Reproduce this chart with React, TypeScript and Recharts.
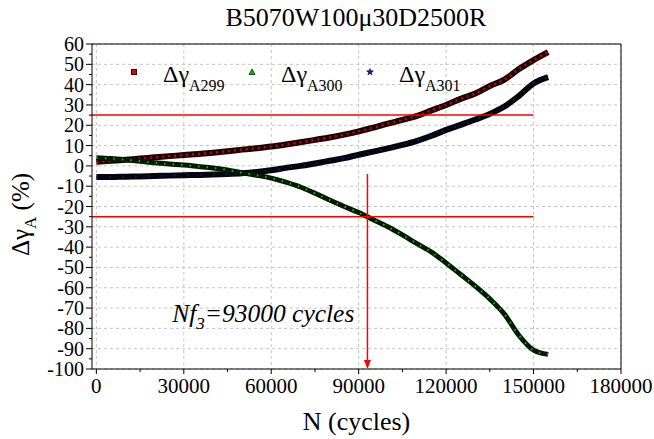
import {
  ComposedChart,
  Line,
  XAxis,
  YAxis,
  CartesianGrid,
  ReferenceLine,
  ReferenceDot,
  Legend,
  Label,
} from "recharts";

const FONT = "'Liberation Serif', 'Times New Roman', serif";
const serif = (size: number, italic = false) => ({
  fontFamily: FONT,
  fontSize: size,
  fontStyle: italic ? "italic" : "normal",
});

/* ===== data ===== */
const cycles = [
  0, 5000, 10000, 15000, 20000, 25000, 30000, 35000, 40000, 45000, 50000,
  55000, 60000, 65000, 70000, 75000, 80000, 85000, 90000, 95000, 100000,
  105000, 110000, 115000, 120000, 125000, 130000, 135000, 140000, 145000,
  150000, 155000,
];
const dgA299 = [
  2, 2.5, 3, 3.6, 4.2, 4.8, 5.3, 5.9, 6.5, 7.2, 8, 8.7, 9.5, 10.5, 11.6, 12.8,
  14, 15.4, 17, 18.8, 20.8, 22.6, 24.6, 27.3, 30, 33, 35.6, 39.3, 42.5, 47.7,
  52.1, 56,
];
const dgA300 = [
  4, 3.6, 3, 2.3, 1.5, 0.9, 0.4, -0.3, -1, -2, -3.4, -4.6, -6, -8, -10.4,
  -13.5, -16.8, -20, -23, -26.5, -30, -34, -38.3, -42.5, -47.8, -53.5, -59.2,
  -65.5, -73, -83.5, -90.7, -92.8,
];
const dgA301 = [
  -5.5, -5.5, -5.3, -5.2, -5, -4.8, -4.6, -4.5, -4.3, -4, -3.6, -3, -2.2, -1,
  0, 1.2, 2.5, 3.8, 5.5, 7, 8.6, 10.3, 12.3, 14.8, 17.7, 20.2, 22.8, 25.6,
  29.2, 34.5, 40.6, 43.7,
];

const xTicks = [
  0, 15000, 30000, 45000, 60000, 75000, 90000, 105000, 120000, 135000, 150000,
  165000, 180000,
];
const xMajor = [0, 30000, 60000, 90000, 120000, 150000, 180000];
const yTicks = [
  -100, -95, -90, -85, -80, -75, -70, -65, -60, -55, -50, -45, -40, -35, -30,
  -25, -20, -15, -10, -5, 0, 5, 10, 15, 20, 25, 30, 35, 40, 45, 50, 55, 60,
];
const yMajor = [-100, -90, -80, -70, -60, -50, -40, -30, -20, -10, 0, 10, 20, 30, 40, 50, 60];

const limit = 25;
const nf3 = 93000;

const legendItems = [
  { sub: "A299", color: "#e00000", shape: "square" },
  { sub: "A300", color: "#00c000", shape: "triangle" },
  { sub: "A301", color: "#1a1aa0", shape: "star" },
];

const data = cycles.map((n, i) => ({
  n,
  a299: dgA299[i],
  a300: dgA300[i],
  a301: dgA301[i],
}));

const TICK_SIZE = 6;
const TICK_MARGIN = 2;

/* ===== ticks ===== */
const XTick = ({ x, y, payload }: any) => {
  const major = xMajor.includes(payload.value);
  const ay = y - TICK_SIZE - TICK_MARGIN;
  return (
    <g>
      <line x1={x} x2={x} y1={ay} y2={ay + (major ? 5 : 3)} stroke="#000" />
      {major && (
        <text x={x} y={ay + 24} textAnchor="middle" style={serif(21)} fill="#000">
          {payload.value}
        </text>
      )}
    </g>
  );
};

const YTick = ({ x, y, payload }: any) => {
  const major = yMajor.includes(payload.value);
  const ax = x + TICK_SIZE + TICK_MARGIN;
  return (
    <g>
      <line x1={ax} x2={ax - (major ? 6 : 3)} y1={y} y2={y} stroke="#000" />
      {major && (
        <text x={ax - 8} y={y + 7} textAnchor="end" style={serif(20)} fill="#000">
          {payload.value}
        </text>
      )}
    </g>
  );
};

const YTitle = ({ viewBox }: any) => {
  const cx = viewBox.x + 29;
  const cy = viewBox.y + viewBox.height / 2 + 8;
  return (
    <text
      x={cx}
      y={cy}
      transform={`rotate(-90 ${cx} ${cy})`}
      textAnchor="middle"
      style={serif(25)}
      fill="#000"
    >
      Δγ<tspan style={serif(17)} dy={7}>A</tspan>
      <tspan dy={-7}> (%)</tspan>
    </text>
  );
};

const XTitle = ({ viewBox }: any) => (
  <text
    x={viewBox.x + viewBox.width / 2}
    y={viewBox.y + 61}
    textAnchor="middle"
    style={serif(26)}
    fill="#000"
  >
    N (cycles)
  </text>
);

const Marker = ({ shape, color, x, y }: any) => {
  if (shape === "square")
    return <rect x={x - 2.5} y={y - 2.5} width={5} height={5} fill={color} stroke="#400" strokeWidth={1} />;
  if (shape === "triangle")
    return <polygon points={`${x},${y - 3} ${x + 3},${y + 2.5} ${x - 3},${y + 2.5}`} fill={color} stroke="#030" strokeWidth={0.8} />;
  const pts: string[] = [];
  for (let k = 0; k < 10; k++) {
    const r = k % 2 === 0 ? 3.5 : 1.5;
    const a = (Math.PI / 5) * k - Math.PI / 2;
    pts.push(`${x + r * Math.cos(a)},${y + r * Math.sin(a)}`);
  }
  return <polygon points={pts.join(" ")} fill={color} stroke="#000030" strokeWidth={0.6} />;
};

const LegendBox = () => (
  <svg width={420} height={48}>
    {legendItems.map((it, i) => {
      const mx = 14 + i * 118;
      return (
        <g key={it.sub}>
          <Marker shape={it.shape} color={it.color} x={mx} y={22} />
          <text x={mx + 29} y={32} style={serif(24)} fill="#000">
            Δγ<tspan style={serif(16)} dy={9}>{it.sub}</tspan>
          </text>
        </g>
      );
    })}
  </svg>
);

const ArrowHead = ({ cx, cy }: any) => (
  <polygon points={`${cx},${cy} ${cx - 3.5},${cy - 9} ${cx + 3.5},${cy - 9}`} fill="#ff0000" />
);

const Note = ({ cx, cy }: any) => (
  <text x={cx} y={cy} style={serif(25.5, true)} fill="#000">
    Nf<tspan style={serif(17, true)} dy={7}>3</tspan>
    <tspan dy={-7}>=93000 cycles</tspan>
  </text>
);

export default function App() {
  return (
    <div style={{ position: "relative", width: 654, height: 439, fontFamily: FONT, background: "#fff" }}>
      <style>{`body{margin:0}`}</style>
      <div
        style={{
          position: "absolute",
          top: 3,
          left: 156,
          width: 400,
          textAlign: "center",
          fontSize: 26,
          lineHeight: "30px",
          color: "#000",
        }}
      >
        B5070W100μ30D2500R
      </div>
      <ComposedChart
        width={654}
        height={439}
        data={data}
        margin={{ top: 44, right: 33, bottom: 0, left: 0 }}
      >
        <CartesianGrid
          stroke="#c4c4c4"
          strokeDasharray="3 3"
          horizontalValues={yMajor}
          verticalValues={xMajor}
        />
        <XAxis
          dataKey="n"
          type="number"
          domain={[-1500, 180000]}
          ticks={xTicks}
          interval={0}
          height={70}
          tickSize={TICK_SIZE}
          tickMargin={TICK_MARGIN}
          tickLine={false}
          tick={<XTick />}
          axisLine={{ stroke: "#000" }}
          label={<Label content={XTitle} />}
        />
        <YAxis
          type="number"
          domain={[-100, 60]}
          ticks={yTicks}
          interval={0}
          width={92}
          tickSize={TICK_SIZE}
          tickMargin={TICK_MARGIN}
          tickLine={false}
          tick={<YTick />}
          axisLine={{ stroke: "#000" }}
          label={<Label content={YTitle} />}
        />
        <ReferenceLine y={60} stroke="#000" />
        <ReferenceLine x={180000} stroke="#000" />

        <Line dataKey="a299" type="monotone" stroke="#1a0000" strokeWidth={6} dot={false} isAnimationActive={false} />
        <Line dataKey="a299" type="monotone" stroke="#d00000" strokeWidth={2.5} strokeDasharray="2 4" dot={false} isAnimationActive={false} />
        <Line dataKey="a301" type="monotone" stroke="#050510" strokeWidth={6} dot={false} isAnimationActive={false} />
        <Line dataKey="a301" type="monotone" stroke="#2020a0" strokeWidth={2} strokeDasharray="1 12" dot={false} isAnimationActive={false} />
        <Line dataKey="a300" type="monotone" stroke="#001a00" strokeWidth={5} dot={false} isAnimationActive={false} />
        <Line dataKey="a300" type="monotone" stroke="#10c010" strokeWidth={2} strokeDasharray="1.5 7" dot={false} isAnimationActive={false} />

        <ReferenceLine segment={[{ x: -1500, y: limit }, { x: 150000, y: limit }]} stroke="#ff0000" strokeWidth={1.5} />
        <ReferenceLine segment={[{ x: -1500, y: -limit }, { x: 150000, y: -limit }]} stroke="#ff0000" strokeWidth={1.5} />
        <ReferenceLine segment={[{ x: nf3, y: -4 }, { x: nf3, y: -98 }]} stroke="#ff0000" strokeWidth={1.5} />
        <ReferenceDot x={nf3} y={-100} r={0} shape={<ArrowHead />} />
        <ReferenceDot x={26000} y={-77} r={0} shape={<Note />} />

        <Legend
          layout="horizontal"
          verticalAlign="middle"
          align="center"
          wrapperStyle={{ position: "absolute", top: 50, left: 120, width: 420, height: 48 }}
          content={() => <LegendBox />}
        />
      </ComposedChart>
    </div>
  );
}
